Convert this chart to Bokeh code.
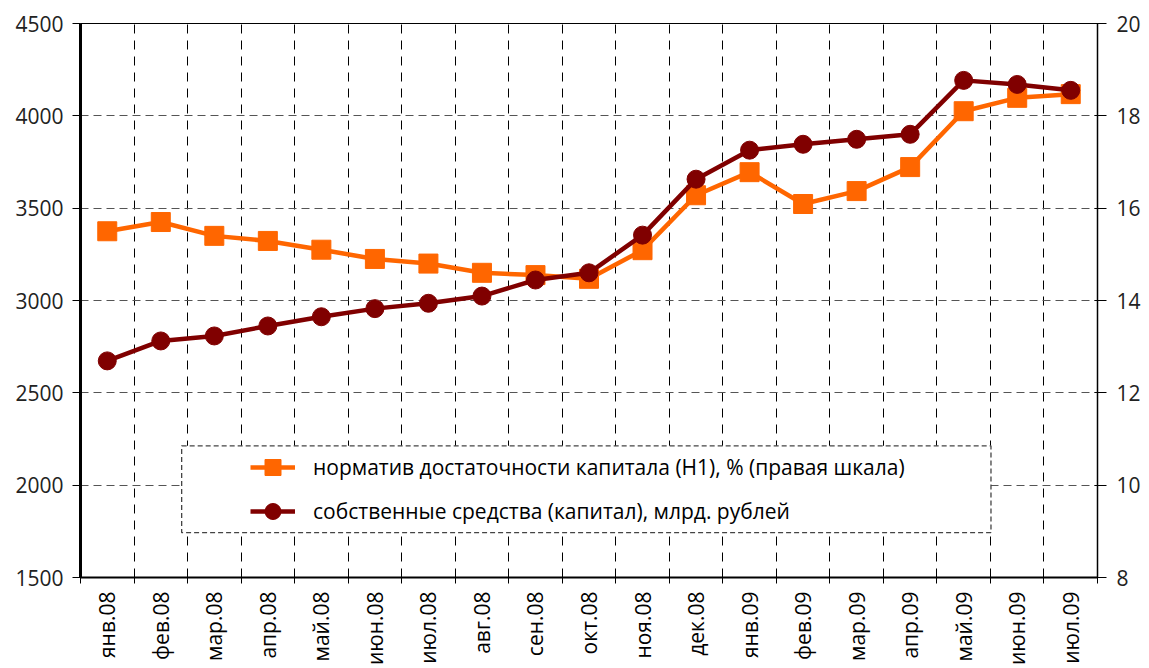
import math
import numpy as np
from bokeh.plotting import figure
from bokeh.models import (Range1d, LinearAxis, FixedTicker, Legend, LegendItem,
                          BoxAnnotation)
from bokeh.embed import file_html
from bokeh.resources import INLINE

# ---------------- data ----------------
months = ["янв.08", "фев.08", "мар.08", "апр.08", "май.08", "июн.08", "июл.08",
          "авг.08", "сен.08", "окт.08", "ноя.08", "дек.08", "янв.09", "фев.09",
          "мар.09", "апр.09", "май.09", "июн.09", "июл.09"]
capital = [2673, 2781, 2808, 2862, 2912, 2956, 2985, 3024, 3111, 3150, 3354,
           3657, 3814, 3846, 3873, 3900, 4192, 4170, 4138]
h1 = [15.50, 15.70, 15.40, 15.29, 15.10, 14.90, 14.80, 14.60, 14.55, 14.47,
      15.09, 16.28, 16.78, 16.09, 16.37, 16.89, 18.10, 18.39, 18.47]
left_ticks = [1500, 2000, 2500, 3000, 3500, 4000, 4500]
right_ticks = [8, 10, 12, 14, 16, 18, 20]
label_h1 = "норматив достаточности капитала (Н1), % (правая шкала)"
label_cap = "собственные средства (капитал), млрд. рублей"

# ---------------- styling ----------------
FONT = "Open Sans"
ORANGE = "#FF6600"
DARKRED = "#800000"

n = len(months)
centers = list(np.arange(n) + 0.5)
bounds = list(np.arange(0, n + 1).astype(float))

p = figure(width=1145, height=668, output_backend="svg", toolbar_location=None,
           x_range=Range1d(0, n), y_range=Range1d(left_ticks[0], left_ticks[-1]),
           min_border_left=80, min_border_right=48, min_border_top=23,
           min_border_bottom=90)
p.extra_y_ranges = {"right": Range1d(right_ticks[0], right_ticks[-1])}
p.background_fill_color = "white"
p.border_fill_color = "white"
p.outline_line_color = "black"
p.outline_line_width = 1

# x axis: labels at category centres, tick marks at category boundaries
xt = FixedTicker(ticks=centers, minor_ticks=bounds)
xa = p.xaxis[0]
xa.ticker = xt
xa.major_label_overrides = {c: m for c, m in zip(centers, months)}
xa.major_label_orientation = math.pi / 2
xa.major_tick_line_color = None
xa.minor_tick_line_color = "black"
xa.minor_tick_in = 6
xa.minor_tick_out = 6
xa.minor_tick_line_width = 1
xa.axis_line_width = 2
xa.axis_line_color = "black"
xa.major_label_text_font = FONT
xa.major_label_text_font_size = "21px"
xa.major_label_text_color = "black"
xa.major_label_standoff = 8

# left axis
ya = p.yaxis[0]
ya.ticker = FixedTicker(ticks=left_ticks)
ya.axis_line_width = 3
ya.axis_line_color = "black"
ya.major_tick_out = 8
ya.major_tick_in = 0
ya.minor_tick_line_color = None
ya.major_label_text_font = FONT
ya.major_label_text_font_size = "21px"
ya.major_label_text_color = "#222222"
ya.major_label_standoff = 9

# right axis
ra = LinearAxis(y_range_name="right", ticker=FixedTicker(ticks=right_ticks))
ra.axis_line_width = 1.5
ra.axis_line_color = "black"
ra.major_tick_out = 9
ra.major_tick_in = 3
ra.minor_tick_line_color = None
ra.major_label_text_font = FONT
ra.major_label_text_font_size = "21px"
ra.major_label_text_color = "#222222"
ra.major_label_standoff = 10
p.add_layout(ra, "right")

# grids
p.xgrid.ticker = xt
p.xgrid.grid_line_color = None
p.xgrid.minor_grid_line_color = "black"
p.xgrid.minor_grid_line_dash = "9 7"
p.xgrid.minor_grid_line_width = 1
p.ygrid.ticker = FixedTicker(ticks=left_ticks)
p.ygrid.grid_line_color = "#555555"
p.ygrid.grid_line_dash = "8 5"
p.ygrid.grid_line_width = 1.2

# series
l1 = p.line(centers, h1, y_range_name="right", line_color=ORANGE, line_width=4.5)
s1 = p.scatter(centers, h1, y_range_name="right", marker="square", size=19,
               fill_color=ORANGE, line_color=ORANGE)
l2 = p.line(centers, capital, line_color=DARKRED, line_width=4.5)
s2 = p.scatter(centers, capital, marker="circle", size=18,
               fill_color=DARKRED, line_color=DARKRED)

# legend frame (in data units of the left scale)
box = BoxAnnotation(left=1.89, right=17.01, bottom=1743, top=2213,
                    fill_color="white", fill_alpha=1.0,
                    line_color="#444444", line_alpha=1.0,
                    line_dash="5 3", line_width=1.3)
p.add_layout(box)

legend = Legend(items=[LegendItem(label=label_h1, renderers=[l1, s1]),
                       LegendItem(label=label_cap, renderers=[l2, s2])],
                location=(170, 46), orientation="vertical",
                padding=0, margin=0, spacing=4,
                glyph_width=45, glyph_height=40, label_standoff=18,
                label_text_font=FONT, label_text_font_size="21px",
                label_text_color="black",
                border_line_alpha=0, background_fill_alpha=0)
p.add_layout(legend, "center")

open("out.html", "w").write(file_html(p, INLINE))
